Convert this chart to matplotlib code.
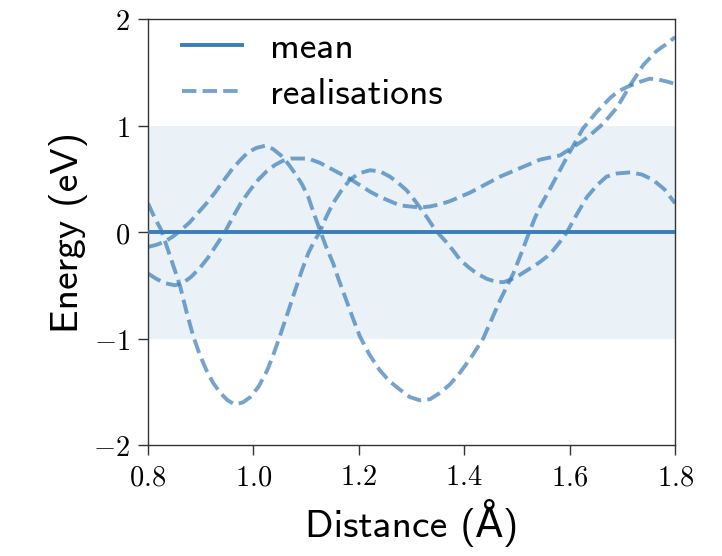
import matplotlib
matplotlib.use("Agg")
import matplotlib.pyplot as plt

plt.rcParams['mathtext.fontset'] = 'cm'

# Data
mean_x = [0.8, 1.8]
mean_y = [0.0, 0.0]

band_lo = -1.0
band_hi = 1.0

real_a_x = [0.8, 0.812, 0.825, 0.838, 0.851, 0.861, 0.873, 0.886, 0.898, 0.911, 0.924, 0.937, 0.951,
            0.965, 0.98, 0.994, 1.01, 1.026, 1.038, 1.05, 1.065, 1.079, 1.092, 1.104, 1.115, 1.126,
            1.138, 1.151, 1.167, 1.183, 1.2, 1.221, 1.24, 1.259, 1.275, 1.291, 1.304, 1.316, 1.329,
            1.341, 1.354, 1.367, 1.38, 1.392, 1.408, 1.424, 1.443, 1.462, 1.475, 1.487, 1.503, 1.519,
            1.532, 1.544, 1.557, 1.569, 1.582, 1.595, 1.614, 1.633, 1.652, 1.67, 1.69, 1.715, 1.737,
            1.758, 1.78, 1.8]
real_a_y = [0.27, 0.14, 0.02, -0.17, -0.36, -0.51, -0.75, -0.98, -1.15, -1.3, -1.42, -1.51, -1.58,
            -1.62, -1.6, -1.55, -1.45, -1.3, -1.15, -0.98, -0.76, -0.55, -0.36, -0.2, -0.09, 0.0,
            0.14, 0.27, 0.39, 0.49, 0.55, 0.58, 0.57, 0.52, 0.46, 0.39, 0.31, 0.23, 0.14,
            0.05, -0.03, -0.1, -0.18, -0.26, -0.33, -0.39, -0.44, -0.47, -0.47, -0.45, -0.41, -0.36,
            -0.32, -0.28, -0.23, -0.17, -0.09, 0.0, 0.17, 0.33, 0.44, 0.52, 0.55, 0.56, 0.54,
            0.49, 0.4, 0.27]

real_b_x = [0.8, 0.816, 0.832, 0.848, 0.863, 0.879, 0.895, 0.911, 0.927, 0.943, 0.958, 0.974, 0.99,
            1.006, 1.022, 1.037, 1.052, 1.066, 1.079, 1.092, 1.104, 1.115, 1.126, 1.138, 1.151, 1.162,
            1.174, 1.188, 1.202, 1.22, 1.24, 1.258, 1.278, 1.297, 1.316, 1.335, 1.354, 1.373, 1.392,
            1.414, 1.436, 1.452, 1.468, 1.48, 1.493, 1.509, 1.525, 1.534, 1.544, 1.56, 1.575, 1.6,
            1.625, 1.65, 1.677, 1.692, 1.708, 1.733, 1.752, 1.77, 1.787, 1.8]
real_b_y = [-0.14, -0.12, -0.09, -0.04, 0.02, 0.09, 0.18, 0.27, 0.37, 0.48, 0.58, 0.67, 0.75,
            0.79, 0.81, 0.78, 0.72, 0.64, 0.55, 0.45, 0.33, 0.17, 0.02, -0.14, -0.29, -0.45,
            -0.61, -0.8, -0.98, -1.15, -1.3, -1.4, -1.48, -1.55, -1.58, -1.57, -1.51, -1.43, -1.32,
            -1.17, -1.0, -0.82, -0.64, -0.52, -0.39, -0.19, 0.02, 0.13, 0.24, 0.38, 0.52, 0.75,
            0.97, 1.12, 1.26, 1.32, 1.36, 1.41, 1.44, 1.43, 1.41, 1.39]

real_c_x = [0.8, 0.816, 0.832, 0.851, 0.866, 0.882, 0.898, 0.914, 0.93, 0.946, 0.961, 0.976, 0.993,
            1.009, 1.025, 1.041, 1.056, 1.071, 1.088, 1.104, 1.126, 1.145, 1.164, 1.183, 1.202, 1.221,
            1.24, 1.259, 1.278, 1.297, 1.316, 1.335, 1.354, 1.373, 1.392, 1.411, 1.43, 1.449, 1.468,
            1.487, 1.506, 1.525, 1.544, 1.563, 1.582, 1.607, 1.623, 1.639, 1.664, 1.69, 1.715, 1.74,
            1.765, 1.785, 1.8]
real_c_y = [-0.39, -0.44, -0.48, -0.5, -0.48, -0.42, -0.34, -0.24, -0.12, 0.0, 0.14, 0.27, 0.39,
            0.49, 0.57, 0.63, 0.67, 0.69, 0.69, 0.69, 0.65, 0.6, 0.55, 0.5, 0.44, 0.38,
            0.33, 0.29, 0.25, 0.24, 0.23, 0.24, 0.26, 0.29, 0.33, 0.37, 0.42, 0.47, 0.52,
            0.56, 0.6, 0.64, 0.68, 0.7, 0.72, 0.8, 0.85, 0.91, 1.02, 1.17, 1.38, 1.57,
            1.7, 1.77, 1.83]

xticks = [0.8, 1.0, 1.2, 1.4, 1.6, 1.8]
yticks = [-2, -1, 0, 1, 2]
xlabel = "Distance (Å)"
ylabel = "Energy (eV)"

color = "#3a7dba"

fig = plt.figure(figsize=(7.22, 5.56), dpi=100)
ax = fig.add_axes([0.205, 0.1996, 0.73, 0.7662])

ax.axhspan(band_lo, band_hi, color=color, alpha=0.1, lw=0, zorder=0)
ax.plot(mean_x, mean_y, color=color, lw=2.8, label="mean", zorder=3)
ax.plot(real_a_x, real_a_y, color=color, alpha=0.7, lw=2.8, ls='--', label="realisations")
ax.plot(real_b_x, real_b_y, color=color, alpha=0.7, lw=2.8, ls='--')
ax.plot(real_c_x, real_c_y, color=color, alpha=0.7, lw=2.8, ls='--')

ax.set_xlim(0.8, 1.8)
ax.set_ylim(-2, 2)
ax.set_xticks(xticks, labels=[f"${t:.1f}$" for t in xticks])
ax.set_yticks(yticks, labels=[f"${t:d}$" for t in yticks])
ax.tick_params(axis='both', labelsize=20.5, length=7, width=1.0, color='#333333', pad=6)
for s in ax.spines.values():
    s.set_color('#333333')
    s.set_linewidth(1.0)

lab_font = ['cmss10', 'DejaVu Sans']
ax.set_xlabel(xlabel, fontsize=28.5, family=lab_font, labelpad=6)
ax.set_ylabel(ylabel, fontsize=28.5, family=lab_font, labelpad=4)

leg = ax.legend(loc='upper left', frameon=False, prop={'family': lab_font, 'size': 27},
                handlelength=1.6, handletextpad=0.75, labelspacing=0.33,
                bbox_to_anchor=(0.0, 1.049))

fig.savefig("out.png", dpi=100)
